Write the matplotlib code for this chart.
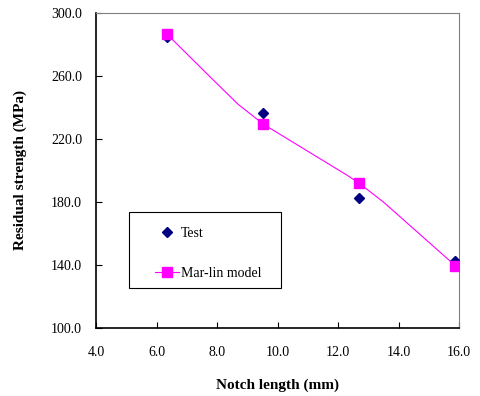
import matplotlib
matplotlib.use('Agg')
import matplotlib.pyplot as plt
from matplotlib.patches import Rectangle

# Test data
test_x = [6.35, 9.525, 12.7, 15.875]
test_y = [285.0, 236.3, 182.5, 142.7]

# Mar-lin model (markers at the notch lengths, line through extra points)
model_x = [6.35, 9.525, 12.7, 15.875]
model_y = [286.5, 229.5, 191.9, 139.6]
curve_x = [6.35, 7.9, 8.7, 9.525, 12.3, 12.7, 13.5, 15.875]
curve_y = [286.5, 257.0, 242.0, 229.5, 197.0, 191.9, 180.0, 139.6]

x_ticks = [4.0, 6.0, 8.0, 10.0, 12.0, 14.0, 16.0]
y_ticks = [100.0, 140.0, 180.0, 220.0, 260.0, 300.0]

plt.rcParams['font.family'] = ['Liberation Serif', 'DejaVu Serif']

fig = plt.figure(figsize=(4.81, 3.96), dpi=100)
ax = fig.add_axes([0.1996, 0.1717, 0.7547, 0.7955])

ax.plot(test_x, test_y, linestyle='none', marker='D', markersize=5,
        color='#000080', label='Test', zorder=3)
ax.plot(curve_x, curve_y, color='#FF00FF', linewidth=0.8, zorder=2)
ax.plot(model_x, model_y, linestyle='none', marker='s', markersize=7,
        color='#FF00FF', zorder=4)
# proxy for the legend entry
ax.plot([], [], color='#FF00FF', linewidth=0.8, marker='s', markersize=7,
        label='Mar-lin model')

ax.set_xlim(4, 16)
ax.set_ylim(100, 300)
ax.set_xticks(x_ticks)
ax.set_yticks(y_ticks)
ax.set_xticklabels(['%.1f' % v for v in x_ticks], fontsize=10)
ax.set_yticklabels(['%.1f' % v for v in y_ticks], fontsize=10)
ax.tick_params(direction='in', length=4, width=0.8)
ax.tick_params(axis='x', pad=13)
ax.tick_params(axis='y', pad=10)

ax.spines['left'].set_linewidth(1.2)
ax.spines['bottom'].set_linewidth(1.2)
for s in ['top', 'right']:
    ax.spines[s].set_color('#808080')
    ax.spines[s].set_linewidth(0.8)

ax.set_xlabel('Notch length (mm)', fontsize=11, fontweight='bold', labelpad=14)
ax.set_ylabel('Residual strength (MPa)', fontsize=11, fontweight='bold', labelpad=17)

# legend box drawn separately so the inner padding can be set freely
ax.add_patch(Rectangle((0.091, 0.127), 0.419, 0.241, transform=ax.transAxes,
                       facecolor='white', edgecolor='black', linewidth=0.8,
                       zorder=5))
leg = ax.legend(loc='upper left', bbox_to_anchor=(0.163, 0.32),
                frameon=False, fontsize=10, labelspacing=1.9, borderpad=0,
                handlelength=1.7, handletextpad=0.15, borderaxespad=0)
leg.set_zorder(6)

fig.savefig('out.png', dpi=100)
